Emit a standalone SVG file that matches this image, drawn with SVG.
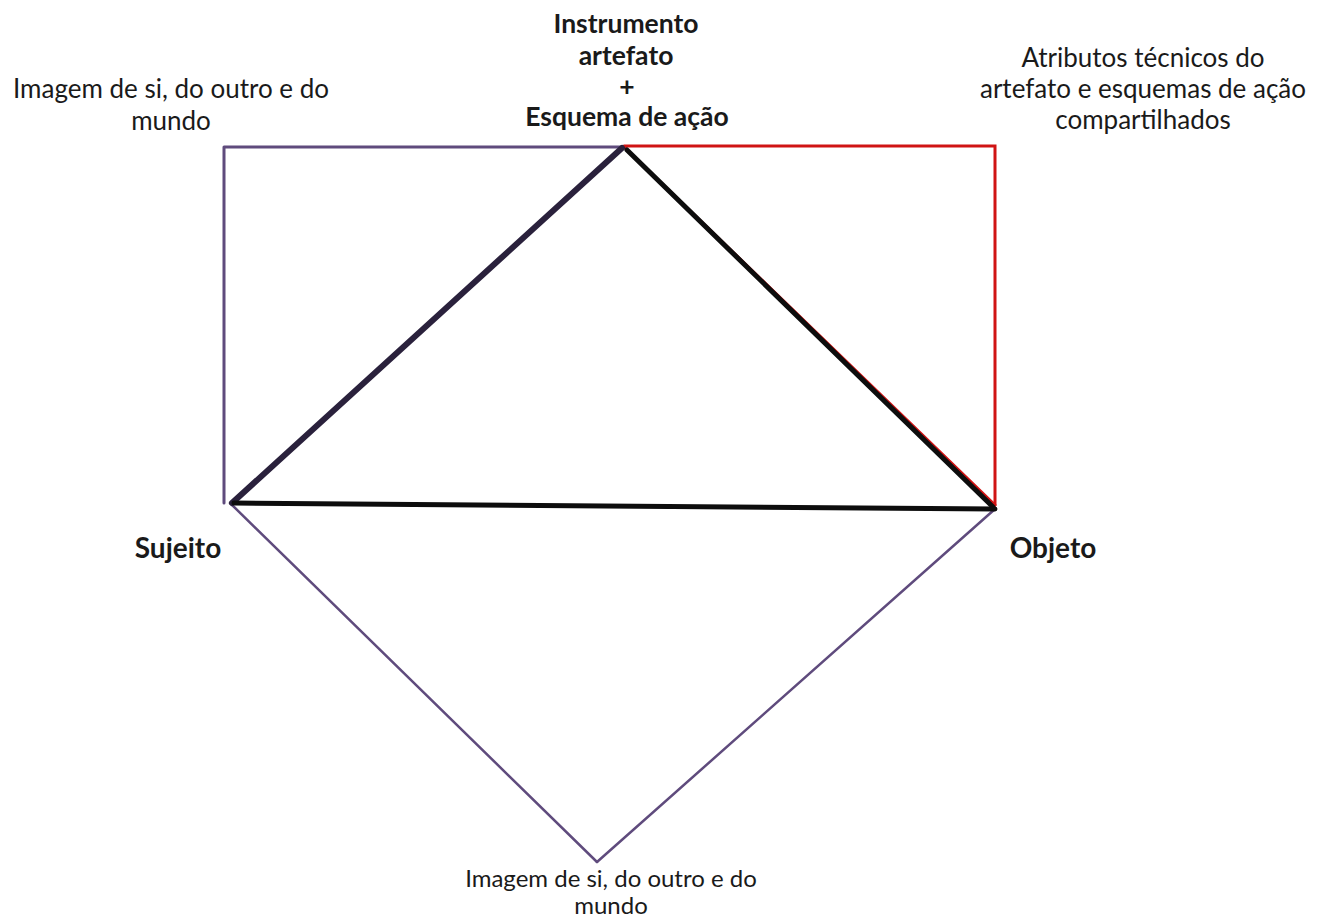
<svg xmlns="http://www.w3.org/2000/svg" width="1326" height="919" viewBox="0 0 1326 919">
<style>
.t{font-family:Lato,"Open Sans","Liberation Sans",sans-serif;font-size:26px;fill:#1a1a1a;text-anchor:middle}
.b{font-weight:bold;font-size:26.5px}
.bb{font-weight:bold;font-size:28px}
.s{font-size:24px}
.p{stroke:#5f4b7d;fill:none;stroke-linecap:round;stroke-linejoin:round}
.r{stroke:#d01414;fill:none;stroke-width:3;stroke-linecap:round}
.k{stroke:#0d0d0d;fill:none;stroke-width:5;stroke-linecap:round}
</style>
<rect width="1326" height="919" fill="#ffffff"/>
<g id="connectors">
<polyline class="p" stroke-width="3" points="224,503 224,147 624,147"/>
<polyline class="r" points="624,146 995,146 995,505"/>
<line class="r" x1="624" y1="147" x2="995" y2="505"/>
<line class="p" stroke-width="2.5" x1="230" y1="503" x2="597" y2="862"/>
<line class="p" stroke-width="2.5" x1="995" y1="509" x2="597" y2="862"/>
<line x1="232" y1="503" x2="622" y2="148" stroke="#2a213c" stroke-width="6" stroke-linecap="round"/>
<line class="k" x1="627" y1="150" x2="993" y2="507"/>
<line class="k" x1="234" y1="503" x2="995" y2="509"/>
</g>
<g id="node-instrumento">
<text class="t b" x="626" y="33">Instrumento</text>
<text class="t b" x="626" y="65">artefato</text>
<text class="t b" x="627" y="96">+</text>
<text class="t b" x="627" y="126">Esquema de ação</text>
</g>
<g id="node-imagem-top">
<text class="t" x="171" y="98">Imagem de si, do outro e do</text>
<text class="t" x="171" y="130">mundo</text>
</g>
<g id="node-atributos">
<text class="t" x="1143" y="67">Atributos técnicos do</text>
<text class="t" x="1143" y="98">artefato e esquemas de ação</text>
<text class="t" x="1143" y="129">compartilhados</text>
</g>
<g id="node-sujeito">
<text class="t bb" x="178" y="558">Sujeito</text>
</g>
<g id="node-objeto">
<text class="t bb" x="1053" y="558">Objeto</text>
</g>
<g id="node-imagem-bottom">
<text class="t s" x="611" y="887">Imagem de si, do outro e do</text>
<text class="t s" x="611" y="914">mundo</text>
</g>
</svg>
